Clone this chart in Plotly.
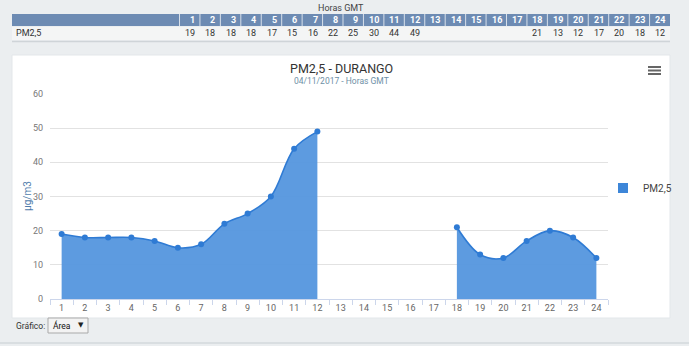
import plotly.graph_objects as go

# ---- data ----
hours = list(range(1, 25))
pm25 = [19, 18, 18, 18, 17, 15, 16, 22, 25, 30, 44, 49,
        None, None, None, None, None, 21, 13, 12, 17, 20, 18, 12]
y_ticks = [0, 10, 20, 30, 40, 50, 60]
series_name = "PM2,5"
title_text = "PM2,5 - DURANGO"
subtitle_text = "04/11/2017 - Horas GMT"
table_caption = "Horas GMT"
y_title = "µg/m3"

W, H = 689, 346
L, R, T, B = 50, 81, 94, 47
PW, PH = W - L - R, H - T - B


def fx(px):
    return (px - L) / PW


def fy(py):
    return (H - B - py) / PH


FONT = "Roboto, Open Sans, DejaVu Sans, sans-serif"
LINE_C = "#2f7bd4"
FILL_C = "rgba(84,150,222,0.95)"

# split the series into contiguous segments (gaps = missing hours)
segments = []
cur_x, cur_y = [], []
for h, v in zip(hours, pm25):
    if v is None:
        if cur_x:
            segments.append((cur_x, cur_y))
        cur_x, cur_y = [], []
    else:
        cur_x.append(h)
        cur_y.append(v)
if cur_x:
    segments.append((cur_x, cur_y))

fig = go.Figure()
for sx, sy in segments:
    fig.add_trace(go.Scatter(
        x=sx, y=sy, name=series_name, mode="lines+markers", legendgroup="pm",
        showlegend=False,
        line=dict(color=LINE_C, width=1.6, shape="spline", smoothing=1.0),
        marker=dict(color=LINE_C, size=6),
        fill="tozeroy", fillcolor=FILL_C,
    ))
# legend entry (square symbol like the original)
fig.add_trace(go.Scatter(
    x=[None], y=[None], name=series_name, mode="markers", legendgroup="pm",
    marker=dict(color="#3d86d8", size=10, symbol="square"),
))

shapes = []
ann = []


def text(t, x, y, size, color, xanchor="center", **kw):
    ann.append(dict(text=t, x=fx(x), y=fy(y), xref="paper", yref="paper",
                    xanchor=xanchor, yanchor="middle", showarrow=False,
                    font=dict(size=size, color=color, family=FONT), **kw))


# white chart panel
shapes.append(dict(type="rect", xref="paper", yref="paper", layer="below",
                   x0=fx(12), x1=fx(670), y0=fy(318), y1=fy(55),
                   fillcolor="white", line=dict(color="#e3e7ea", width=1)))
# page bottom line
shapes.append(dict(type="line", xref="paper", yref="paper",
                   x0=fx(0), x1=fx(689), y0=fy(343), y1=fy(343),
                   line=dict(color="#d3d9dd", width=1.5)))

# ---- top table ----
text(table_caption, 341, 8, 9, "#444")
tab_x0, tab_x1 = 12, 670
col0_end = 179.5
cw = (tab_x1 - col0_end) / len(hours)
hy0, hy1 = 14, 26
ry0, ry1 = 27, 40
shapes.append(dict(type="rect", xref="paper", yref="paper",
                   x0=fx(tab_x0), x1=fx(tab_x1), y0=fy(hy1), y1=fy(hy0),
                   fillcolor="#6d8bb3", line=dict(width=0)))
shapes.append(dict(type="rect", xref="paper", yref="paper",
                   x0=fx(tab_x0), x1=fx(tab_x1), y0=fy(ry1), y1=fy(ry0),
                   fillcolor="#f4f5f5", line=dict(width=0)))
shapes.append(dict(type="line", xref="paper", yref="paper",
                   x0=fx(tab_x0), x1=fx(tab_x1), y0=fy(41.5), y1=fy(41.5),
                   line=dict(color="#cfd4d8", width=1.5)))
text(series_name, 14, (ry0 + ry1) / 2, 9, "#333", xanchor="left")
for i, (h, v) in enumerate(zip(hours, pm25)):
    cx0 = col0_end + i * cw
    shapes.append(dict(type="line", xref="paper", yref="paper",
                       x0=fx(cx0), x1=fx(cx0), y0=fy(hy1), y1=fy(hy0),
                       line=dict(color="#d8e0ea", width=1)))
    text("<b>%d</b>" % h, cx0 + cw - 3, (hy0 + hy1) / 2 + 0.5, 9, "white", xanchor="right")
    if v is not None:
        text(str(v), cx0 + cw - 3, (ry0 + ry1) / 2, 9, "#333", xanchor="right")

# ---- titles ----
text(title_text, 341, 68, 12.5, "#333")
text(subtitle_text, 341, 81, 8.5, "#6e8fa6")
# y axis title
text(y_title, 27, 196, 10, "#4f7cab", textangle=-90)

# hamburger menu
for yy in (67, 70.5, 74):
    shapes.append(dict(type="line", xref="paper", yref="paper",
                       x0=fx(648), x1=fx(661), y0=fy(yy), y1=fy(yy),
                       line=dict(color="#666", width=2)))

# ---- bottom "Gráfico" control ----
text("Gráfico:", 14, 325.5, 8.5, "#333", xanchor="left")
shapes.append(dict(type="rect", xref="paper", yref="paper",
                   x0=fx(48), x1=fx(88), y0=fy(333), y1=fy(318),
                   fillcolor="#f3f3f3", line=dict(color="#a9a9a9", width=1)))
text("Área", 51, 325.5, 8.5, "#111", xanchor="left")
text("▼", 81, 325, 7, "#222")

fig.update_layout(
    width=W, height=H,
    margin=dict(l=L, r=R, t=T, b=B, pad=0, autoexpand=False),
    paper_bgcolor="#ebeef0",
    plot_bgcolor="white",
    font=dict(family=FONT, size=9, color="#666"),
    shapes=shapes,
    annotations=ann,
    showlegend=True,
    legend=dict(x=fx(603), y=fy(188), xanchor="left", yanchor="middle",
                bgcolor="rgba(0,0,0,0)", itemwidth=30,
                font=dict(size=10, color="#444", family=FONT)),
    xaxis=dict(range=[0.5, 24.5], tickvals=hours, ticktext=[str(h) for h in hours],
               showgrid=False, zeroline=False, showline=True, linecolor="#ccd6eb",
               linewidth=1, ticks="", tickfont=dict(size=9, color="#666"),
               minor=dict(ticks="outside", tick0=0.5, dtick=1, ticklen=5,
                          tickcolor="#ccd6eb", showgrid=False),
               fixedrange=True),
    yaxis=dict(range=[0, 60], tickvals=y_ticks, showgrid=True, gridcolor="#e2e2e2",
               zeroline=False, showline=False, ticks="", ticklabelstandoff=6,
               tickfont=dict(size=9, color="#777"),
               fixedrange=True),
)

fig.write_html("out.html")
